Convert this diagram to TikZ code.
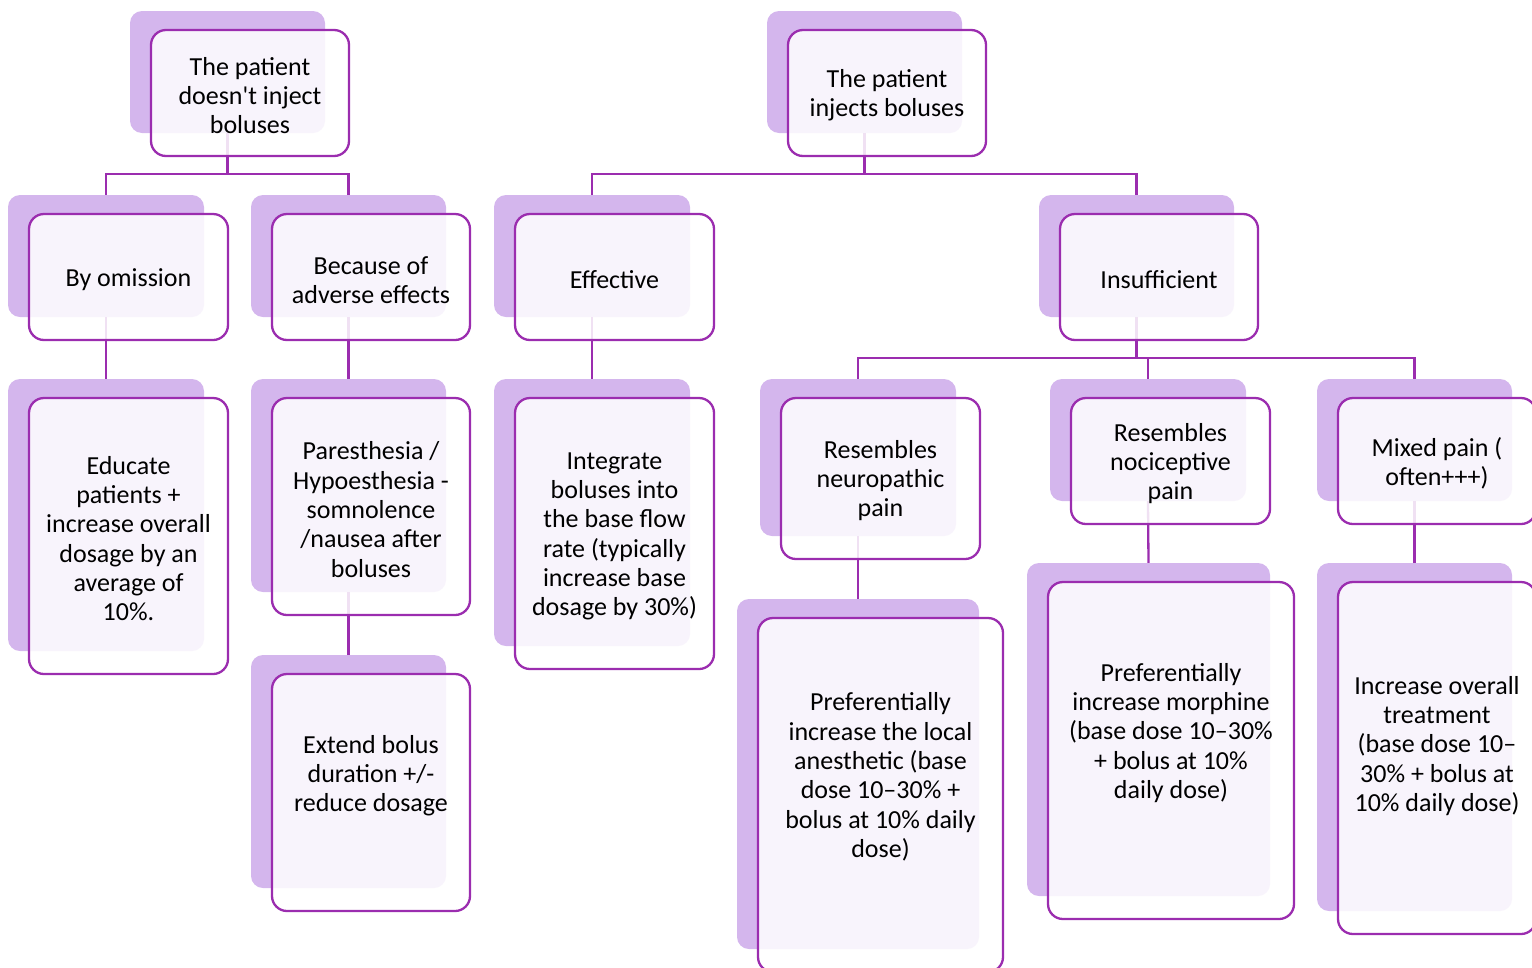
\documentclass[tikz,border=0pt]{standalone}
\usepackage{fontspec}
\setmainfont{Carlito}
\newfontfamily\boxfont{Carlito}
\definecolor{pborder}{RGB}{155,45,175}
\definecolor{pback}{RGB}{212,182,237}
\pgfdeclarelayer{bg}
\pgfdeclarelayer{lines}
\pgfsetlayers{bg,lines,main}
\tikzset{
  backbox/.style={fill=pback, draw=none, rounded corners=12pt, inner sep=0pt},
  frontbox/.style={fill=white, fill opacity=0.86, draw=pborder, draw opacity=1, line width=2.3pt, rounded corners=15pt, inner sep=0pt},
  btext/.style={align=center, font=\boxfont\fontsize{26pt}{29.3pt}\selectfont, text=black, inner sep=0pt},
  conn/.style={draw=pborder, line width=2.3pt}
}
\newcommand{\mkbox}[7]{%
  \pgfmathsetmacro{\bw}{#4-#2-3}%
  \pgfmathsetmacro{\bh}{#5-#3-4}%
  \pgfmathsetmacro{\bx}{(#2+#4)/2-22.5}%
  \pgfmathsetmacro{\by}{-((#3+#5)/2-21)}%
  \pgfmathsetmacro{\fw}{#4-#2}%
  \pgfmathsetmacro{\fh}{#5-#3}%
  \pgfmathsetmacro{\fx}{(#2+#4)/2}%
  \pgfmathsetmacro{\fy}{-(#3+#5)/2}%
  \pgfmathsetmacro{\ty}{-(#6+2.5)}%
  \begin{pgfonlayer}{bg}
    \node[backbox, minimum width=\bw pt, minimum height=\bh pt] (#1b) at (\bx pt,\by pt) {};
  \end{pgfonlayer}
  \node[frontbox, minimum width=\fw pt, minimum height=\fh pt] (#1f) at (\fx pt,\fy pt) {};
  \node[btext] (#1t) at (\fx pt,\ty pt) {#7};
}
\begin{document}
\begin{tikzpicture}[x=1pt,y=1pt]
\clip (0,0) rectangle (1532,-967);
\mkbox{A}{151}{30}{349}{156}{93}{The patient\\doesn't inject\\boluses}
\mkbox{B}{788}{30}{986}{156}{93}{The patient\\injects boluses}
\mkbox{C}{29}{214}{228}{340}{277}{By omission}
\mkbox{D}{272}{214}{470}{340}{277.5}{Because of\\adverse effects}
\mkbox{E}{515}{214}{714}{340}{277}{Effective}
\mkbox{F}{1060}{214}{1258}{340}{277}{Insufficient}
\mkbox{G}{29}{398}{228}{674}{536}{Educate\\patients +\\increase overall\\dosage by an\\average of\\10\%.}
\mkbox{H}{272}{398}{470}{615}{507}{Paresthesia /\\Hypoesthesia -\\somnolence\\/nausea after\\boluses}
\mkbox{I}{515}{398}{714}{669}{534}{Integrate\\boluses into\\the base flow\\rate (typically\\increase base\\dosage by 30\%)}
\mkbox{J}{272}{674}{470}{911}{773}{Extend bolus\\duration +/-\\reduce dosage}
\mkbox{K}{781}{398}{980}{559}{478}{Resembles\\neuropathic\\pain}
\mkbox{L}{1071}{398}{1270}{524}{461}{Resembles\\nociceptive\\pain}
\mkbox{M}{1338}{398}{1536}{524}{461}{Mixed pain (\\often+++)}
\mkbox{N}{758}{618}{1003}{972}{774.5}{Preferentially\\increase the local\\anesthetic (base\\dose 10–30\% +\\bolus at 10\% daily\\dose)}
\mkbox{O}{1048}{582}{1294}{919}{730.5}{Preferentially\\increase morphine\\(base dose 10–30\%\\+ bolus at 10\%\\daily dose)}
\mkbox{P}{1338}{582}{1536}{934}{743.5}{Increase overall\\treatment\\(base dose 10–\\30\% + bolus at\\10\% daily dose)}
\begin{pgfonlayer}{lines}
  \coordinate (jA) at (Ab.south |- 0,-174);
  \coordinate (jB) at (Bb.south |- 0,-174);
  \coordinate (jF) at (Fb.south |- 0,-358);
  \draw[conn] (Ab.south) -- (jA);
  \draw[conn] (Cb.north) |- (jA) -| (Db.north);
  \draw[conn] (Bb.south) -- (jB);
  \draw[conn] (Eb.north) |- (jB) -| (Fb.north);
  \draw[conn] (Cb.south) -- (Gb.north);
  \draw[conn] (Db.south) -- (Hb.north);
  \draw[conn] (Hb.south) -- (Jb.north);
  \draw[conn] (Eb.south) -- (Ib.north);
  \draw[conn] (Fb.south) -- (jF);
  \draw[conn] (Kb.north) |- (jF) -| (Mb.north);
  \draw[conn] (jF) -| (Lb.north);
  \draw[conn] (Kb.south) -- (Nb.north);
  \draw[conn] (Lb.south) -- (Ob.north);
  \draw[conn] (Mb.south) -- (Pb.north);
\end{pgfonlayer}
\end{tikzpicture}
\end{document}
